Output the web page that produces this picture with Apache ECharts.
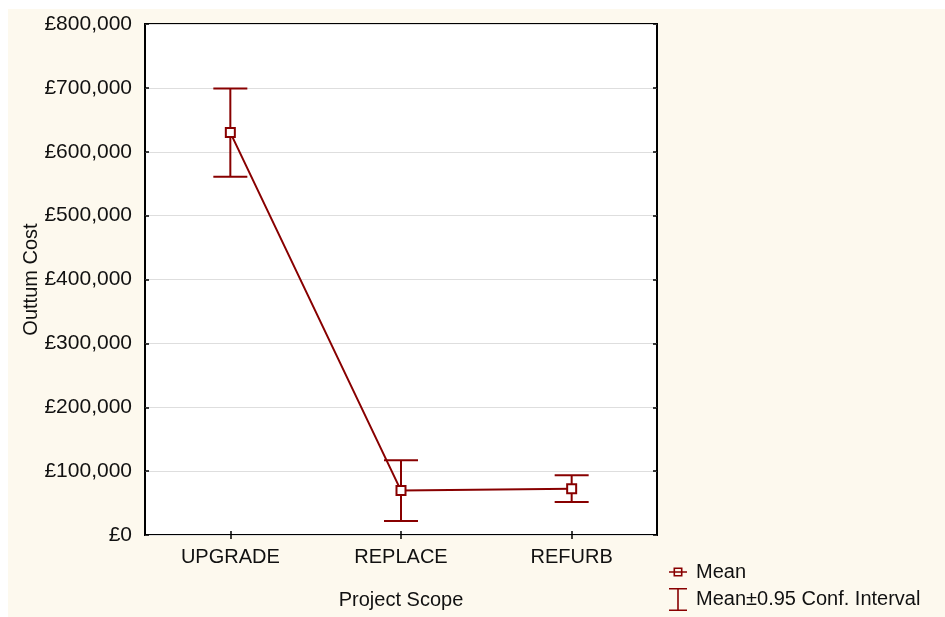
<!DOCTYPE html>
<html>
<head>
<meta charset="utf-8">
<title>Outturn Cost by Project Scope</title>
<script src="https://cdn.jsdelivr.net/npm/echarts@6/dist/echarts.min.js"></script>
<style>
  html, body { margin: 0; padding: 0; background: #ffffff; }
  #chart { position: absolute; left: 8px; top: 9px; width: 937px; height: 608px; }
</style>
</head>
<body>
<div id="chart"></div>
<script>
// Project scopes along the x axis
const categories = ['UPGRADE', 'REPLACE', 'REFURB'];
// Mean outturn cost per scope (£)
const meanCost = [630000, 69500, 72500];
// 95% confidence interval bounds (£)
const ciLower = [561000, 22000, 51500];
const ciUpper = [699000, 117000, 93500];
// Y axis range and step (£)
const yMin = 0;
const yMax = 800000;
const yStep = 100000;

const FONT = '"Liberation Sans", Arial, sans-serif';
const RED = '#880000';
const TEXT = '#111111';

const ciData = categories.map((c, i) => [i, ciLower[i], ciUpper[i]]);

function formatPounds(v) {
  return '£' + Math.round(v).toString().replace(/\B(?=(\d{3})+(?!\d))/g, ',');
}

const chart = echarts.init(document.getElementById('chart'), null, { renderer: 'canvas' });

const option = {
  backgroundColor: '#fdf9ee',
  animation: false,
  textStyle: { fontFamily: FONT, color: TEXT },
  grid: {
    left: 137, top: 15, right: 288, bottom: 82,
    outerBoundsMode: 'none',
    containLabel: false,
    show: true, backgroundColor: '#ffffff',
    borderColor: '#000000', borderWidth: 2
  },
  legend: [
    {
      left: 661, top: 553, orient: 'vertical', padding: 0,
      itemWidth: 18, itemHeight: 9,
      itemStyle: { color: RED, borderWidth: 0 },
      textStyle: { fontFamily: FONT, fontSize: 20, color: TEXT, padding: [0, 0, 0, 4] },
      data: [{
        name: 'Mean',
        icon: 'path://M0,3.7H5V5.3H0Z M13,3.7H18V5.3H13Z M4.5,0H13.5V1.6H4.5Z M4.5,7.4H13.5V9H4.5Z M4.5,1.6H6.1V7.4H4.5Z M11.9,1.6H13.5V7.4H11.9Z M6.1,3.7H11.9V5.3H6.1Z',
        itemStyle: { color: RED, borderWidth: 0 }
      }]
    },
    {
      left: 661, top: 579, orient: 'vertical', padding: 0,
      itemWidth: 18, itemHeight: 23,
      itemStyle: { color: RED, borderWidth: 0 },
      textStyle: { fontFamily: FONT, fontSize: 20, color: TEXT, padding: [0, 0, 0, 4] },
      data: [{
        name: 'Mean±0.95 Conf. Interval',
        icon: 'path://M0,0H18V1.6H9.8V21.4H18V23H0V21.4H8.2V1.6H0Z',
        itemStyle: { color: RED, borderWidth: 0 }
      }]
    }
  ],
  xAxis: [
    {
      type: 'category', data: categories, position: 'bottom',
      boundaryGap: true,
      name: 'Project Scope', nameLocation: 'middle', nameGap: 55,
      nameMoveOverlap: false,
      nameTextStyle: { fontFamily: FONT, fontSize: 20, color: TEXT },
      axisLine: { show: false },
      axisTick: { show: true, inside: true, length: 4, alignWithLabel: true, lineStyle: { color: '#000', width: 1.5 } },
      axisLabel: { fontFamily: FONT, fontSize: 20, color: TEXT, margin: 12 },
      splitLine: { show: false }
    },
    {
      type: 'category', data: categories, position: 'top',
      boundaryGap: true,
      axisLine: { show: false },
      axisTick: { show: true, inside: true, length: 4, alignWithLabel: true, lineStyle: { color: '#000', width: 1.5 } },
      axisLabel: { show: false },
      splitLine: { show: false }
    }
  ],
  yAxis: [
    {
      type: 'value', min: yMin, max: yMax, interval: yStep, position: 'left',
      name: 'Outtum Cost', nameLocation: 'middle', nameGap: 104,
      nameMoveOverlap: false,
      nameTextStyle: { fontFamily: FONT, fontSize: 20, color: TEXT },
      axisLine: { show: false },
      axisTick: { show: true, inside: true, length: 4, lineStyle: { color: '#000', width: 1.5 } },
      axisLabel: { fontFamily: FONT, fontSize: 21, color: TEXT, margin: 13, formatter: formatPounds },
      splitLine: { show: true, lineStyle: { color: '#dedede', width: 1 } }
    },
    {
      type: 'value', min: yMin, max: yMax, interval: yStep, position: 'right',
      axisLine: { show: false },
      axisTick: { show: true, inside: true, length: 4, lineStyle: { color: '#000', width: 1.5 } },
      axisLabel: { show: false },
      splitLine: { show: false }
    }
  ],
  series: [
    {
      name: 'Mean±0.95 Conf. Interval',
      type: 'custom',
      xAxisIndex: 0, yAxisIndex: 0,
      z: 2,
      itemStyle: { color: RED },
      encode: { x: 0, y: [1, 2] },
      data: ciData,
      renderItem: function (params, api) {
        const xi = api.value(0);
        const lo = api.coord([xi, api.value(1)]);
        const hi = api.coord([xi, api.value(2)]);
        const half = 17;
        const style = { stroke: RED, lineWidth: 2, fill: null };
        return {
          type: 'group',
          children: [
            { type: 'line', shape: { x1: lo[0], y1: lo[1], x2: hi[0], y2: hi[1] }, style: style },
            { type: 'line', shape: { x1: hi[0] - half, y1: hi[1], x2: hi[0] + half, y2: hi[1] }, style: style },
            { type: 'line', shape: { x1: lo[0] - half, y1: lo[1], x2: lo[0] + half, y2: lo[1] }, style: style }
          ]
        };
      }
    },
    {
      name: 'Mean',
      type: 'line',
      xAxisIndex: 0, yAxisIndex: 0,
      z: 3,
      data: meanCost,
      symbol: 'rect',
      symbolSize: 9,
      showSymbol: true,
      itemStyle: { color: '#ffffff', borderColor: RED, borderWidth: 2 },
      lineStyle: { color: RED, width: 2 }
    }
  ]
};

chart.setOption(option);
</script>
</body>
</html>
